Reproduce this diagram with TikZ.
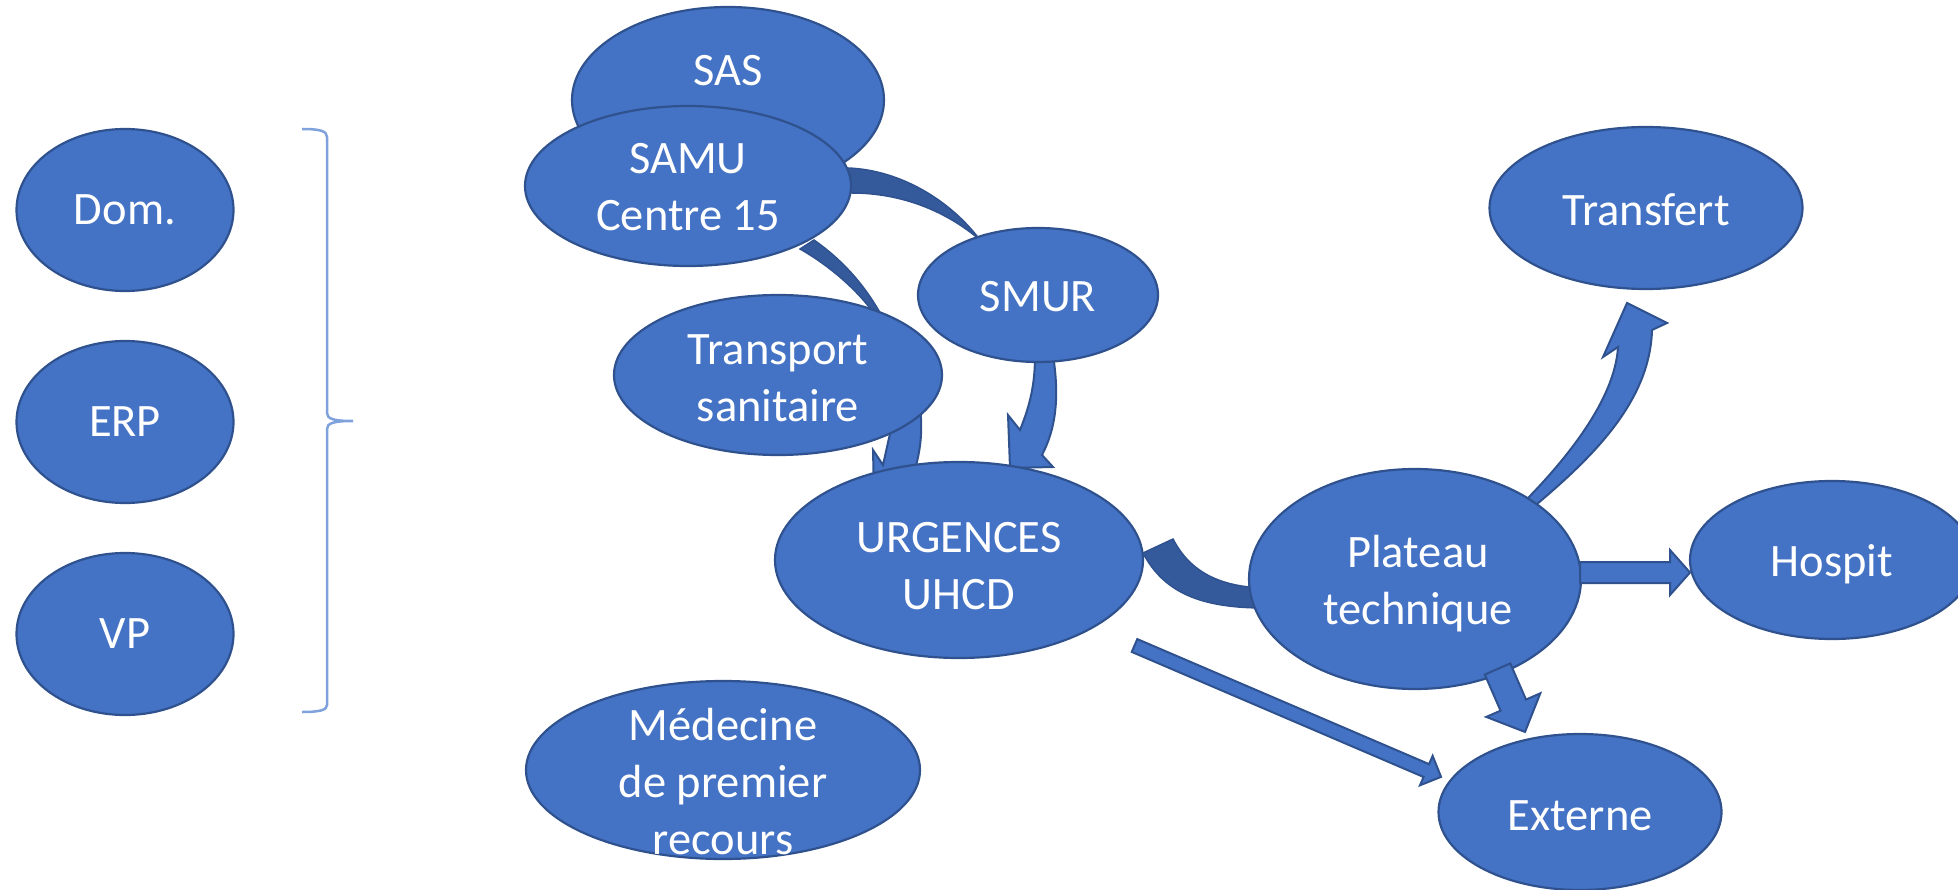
\documentclass[tikz,border=0pt]{standalone}
\usepackage{fontspec}
\setmainfont{Carlito}
\usetikzlibrary{shapes.geometric}
\definecolor{nodefill}{HTML}{4472C4}
\definecolor{nodeline}{HTML}{2F528F}
\definecolor{backfill}{HTML}{345A9B}
\definecolor{bracecol}{HTML}{7FA1DC}
\tikzset{
  ell/.style={ellipse, draw=nodeline, fill=nodefill, line width=2.2pt, inner sep=0pt},
  lbl/.style={inner sep=0pt, text=white, font=\fontsize{46.5}{57}\selectfont, align=center},
  arr/.style={draw=nodeline, fill=nodefill, line width=2pt, line join=miter},
  backband/.style={draw=nodeline, fill=backfill, line width=1.5pt},
}
\newcommand\blockarr[7]{% x y angle L s h hl
  \begin{scope}[shift={(#1,#2)},rotate=#3]
    \draw[arr] (0,-#5) -- (#4-#7,-#5) -- (#4-#7,-#6) -- (#4,0) -- (#4-#7,#6) -- (#4-#7,#5) -- (0,#5) -- cycle;
  \end{scope}}
\begin{document}
\begin{tikzpicture}[x=1pt,y=-1pt]
\useasboundingbox (0,0) rectangle (1958,890);
\clip (0,0) rectangle (1958,890);

% back parts of curved arrows (partly hidden behind nodes)
\draw[backband] (814,240) .. controls (845,262) and (866,287) .. (883,318)
  -- (877,318) .. controls (860,292) and (830,266) .. (800,249) -- cycle;
\draw[backband] (840,168) -- (848,168) .. controls (900,170) and (950,200) .. (980,240)
  .. controls (945,210) and (900,193) .. (852,193) -- (840,193) -- cycle;
\draw[arr] (893,420) -- (883,465) -- (873,450) -- (874,495) -- (912,495) -- (915,470)
  .. controls (920,450) and (923,435) .. (920,405) -- cycle;
\draw[arr] (1035,330) -- (1035,355) .. controls (1035,385) and (1030,405) .. (1020,430)
  -- (1008,415) -- (1010,468) -- (1053,467) -- (1042,455)
  .. controls (1055,430) and (1060,400) .. (1053,355) -- (1053,330) -- cycle;
\draw[backband] (1143,553) -- (1173,539) .. controls (1190,572) and (1220,587) .. (1265,588)
  -- (1265,608) .. controls (1205,608) and (1165,595) .. (1143,553) -- cycle;
\draw[arr] (1522,508) -- (1528,498) .. controls (1565,460) and (1615,400) .. (1618,347)
  -- (1603,357) -- (1627,303) -- (1667,323) -- (1652,330)
  .. controls (1650,400) and (1595,455) .. (1537,504) -- (1530,512) -- cycle;

% nodes
\node[ell, minimum width=312pt, minimum height=186pt] (sas) at (728,100) {};
\node[lbl] (sas-t) at (728,71) {SAS};
\node[ell, minimum width=326pt, minimum height=160pt] (samu) at (688,186) {};
\node[lbl] (samu-t) at (688,187) {SAMU\\Centre 15};
\node[ell, minimum width=240pt, minimum height=134pt] (smur) at (1038,295) {};
\node[lbl] (smur-t) at (1038,297) {SMUR};
\node[ell, minimum width=328pt, minimum height=160pt] (transp) at (778,375) {};
\node[lbl] (transp-t) at (778,378) {Transport\\sanitaire};
\node[ell, minimum width=368pt, minimum height=196pt] (urg) at (959,560) {};
\node[lbl] (urg-t) at (959,566) {URGENCES\\UHCD};
\node[ell, minimum width=394pt, minimum height=178pt] (med) at (723,770) {};
\node[lbl] (med-t) at (723,782) {Médecine\\de premier\\recours};
\node[ell, minimum width=332pt, minimum height=220pt] (plat) at (1415,579) {};
\node[lbl] (plat-t) at (1418,584) {Plateau\\technique};
\node[ell, minimum width=313pt, minimum height=162pt] (transf) at (1646,208) {};
\node[lbl] (transf-t) at (1646,210) {Transfert};
\node[ell, minimum width=284pt, minimum height=158pt] (hosp) at (1832,560) {};
\node[lbl] (hosp-t) at (1832,564) {Hospit};
\node[ell, minimum width=283pt, minimum height=156pt] (ext) at (1580,812) {};
\node[lbl] (ext-t) at (1580,816) {Externe};
\node[ell, minimum width=217pt, minimum height=162pt] (dom) at (125,210) {};
\node[lbl] (dom-t) at (125,210) {Dom.};
\node[ell, minimum width=217pt, minimum height=162pt] (erp) at (125,422) {};
\node[lbl] (erp-t) at (125,422) {ERP};
\node[ell, minimum width=217pt, minimum height=162pt] (vp) at (125,634) {};
\node[lbl] (vp-t) at (125,634) {VP};

% front arrows
\blockarr{1134.5}{645.5}{-23.2}{333.5}{7}{16}{16}
\blockarr{1497.5}{669}{-66.4}{68.7}{13.9}{29.5}{29.3}
\blockarr{1580}{572.5}{0}{110}{10.5}{22.5}{20}

% brace
\draw[bracecol, line width=2.5pt] (302,129) .. controls (320,129) and (327,131) .. (327,137)
  -- (327,413) .. controls (327,419) and (334,421) .. (353,421)
  .. controls (334,421) and (327,423) .. (327,429)
  -- (327,705) .. controls (327,710) and (320,712) .. (302,712);
\end{tikzpicture}
\end{document}
